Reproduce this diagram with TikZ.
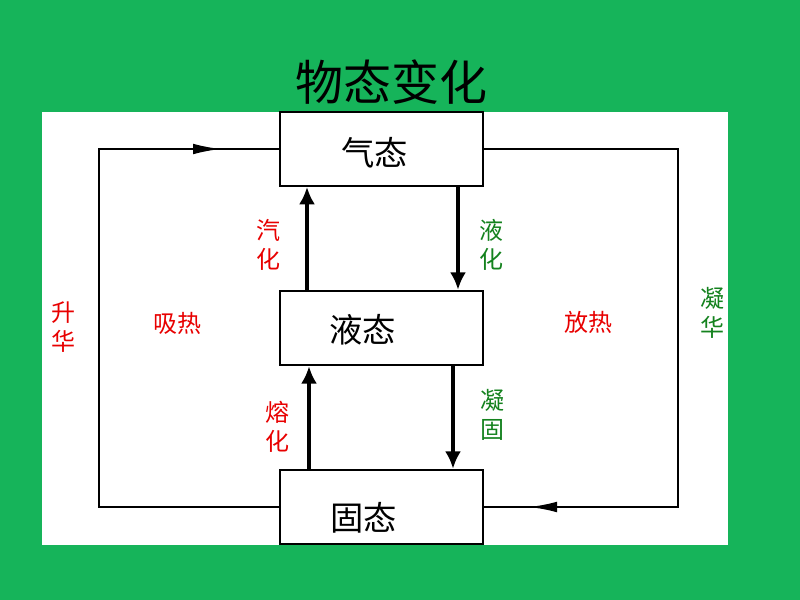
\documentclass[tikz,border=0pt]{standalone}
\usepackage{fontspec}
\setmainfont{Liberation Sans}
\newfontfamily\cjk{Noto Sans CJK SC}
\usetikzlibrary{arrows.meta,calc}
\definecolor{bggreen}{RGB}{22,180,90}
\definecolor{lblred}{RGB}{232,0,0}
\definecolor{lblgreen}{RGB}{20,130,30}
\tikzset{
  statebox/.style={draw=black,line width=1.5pt,fill=white,minimum width=152.25pt,minimum height=56pt,inner sep=0pt,font=\cjk\fontsize{25}{25}\selectfont},
  varrow/.style={line width=2.3pt,-{Latex[length=13pt,width=12pt]}},
  loopline/.style={line width=1.6pt},
  looparrow/.style={line width=1.6pt,-{Latex[length=21pt,width=8pt]}},
  redlbl/.style={text=lblred,font=\cjk\fontsize{18}{22}\selectfont,align=center,inner sep=0pt},
  greenlbl/.style={text=lblgreen,font=\cjk\fontsize{18}{22}\selectfont,align=center,inner sep=0pt},
}
\begin{document}
\begin{tikzpicture}[x=0.75pt,y=-0.75pt]
\fill[bggreen] (0,0) rectangle (800,600);
\useasboundingbox (0,0) rectangle (800,600);
\fill[white] (42,112) rectangle (728,545);
\node[font=\cjk\fontsize{36}{36}\selectfont] (title) at (391,82) {物态变化};
\node[statebox,minimum height=55.5pt] (gas) at (381.5,149) {\hspace*{-10pt}\raisebox{-3pt}[\height][\depth]{气态}};
\node[statebox] (liq) at (381.5,328) {\hspace*{-28pt}\raisebox{-1.5pt}[\height][\depth]{液态}};
\node[statebox] (sol) at (381.5,507) {\hspace*{-27pt}\raisebox{-8pt}[\height][\depth]{固态}};
% vertical arrows
\draw[varrow] ($(liq.north west)+(28,0)$) -- ($(gas.south west)+(28,0)$);
\draw[varrow] ($(gas.south west)+(179,0)$) -- ($(liq.north west)+(179,0)$);
\draw[varrow] ($(sol.north west)+(30,0)$) -- ($(liq.south west)+(30,0)$);
\draw[varrow] ($(liq.south west)+(174,0)$) -- ($(sol.north west)+(174,0)$);
% left loop
\coordinate (ltop) at ($(gas.west)+(-180,0)$);
\coordinate (lbot) at ($(sol.west)+(-180,0)$);
\draw[loopline] (sol.west) -- (lbot) -- (ltop) -- (gas.west);
\draw[looparrow] (ltop) -- ($(ltop)+(122,0)$);
% right loop
\coordinate (rtop) at ($(gas.east)+(194,0)$);
\coordinate (rbot) at ($(sol.east)+(194,0)$);
\draw[loopline] (gas.east) -- (rtop) -- (rbot) -- (sol.east);
\draw[looparrow] (rbot) -- ($(rbot)+(-149,0)$);
% labels
\node[redlbl] (qh) at (268,245) {汽\\化};
\node[greenlbl] (yh) at (491,245) {液\\化};
\node[redlbl] (rh) at (277,427) {熔\\化};
\node[greenlbl] (ng) at (492,415) {凝\\固};
\node[redlbl] (sh) at (63,327) {升\\华};
\node[redlbl] (xr) at (177,323) {吸热};
\node[redlbl] (fr) at (588,322) {放热};
\node[greenlbl] (nh) at (712,313) {凝\\华};
\end{tikzpicture}
\end{document}
